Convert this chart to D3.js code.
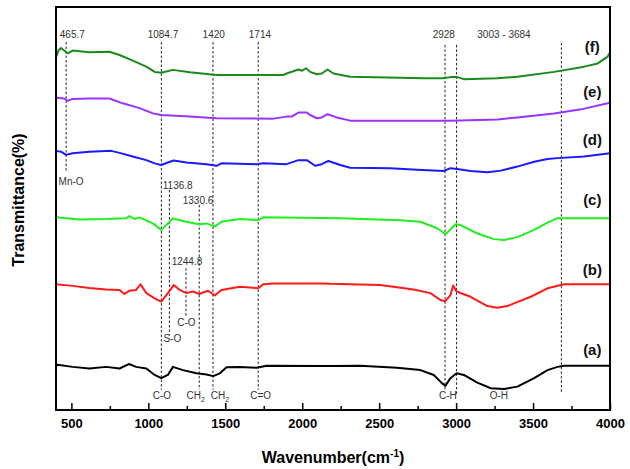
<!DOCTYPE html>
<html>
<head>
<meta charset="utf-8">
<script src="https://cdn.jsdelivr.net/npm/d3@7"></script>
<style>
  body { margin: 0; background: #fff; }
  svg { display: block; font-family: Arial, "Liberation Sans", sans-serif; }
</style>
</head>
<body>
<svg id="chart"></svg>
<script>
// Spectres FTIR (nombre d'onde, transmittance relative)
const wnA = [400, 410, 508, 617, 726, 813, 873, 921, 987, 1041, 1084, 1127, 1160, 1225, 1313, 1378, 1421, 1465, 1508, 1595, 1704, 1769, 2181, 2377, 2616, 2768, 2855, 2909, 2931, 2963, 3003, 3050, 3138, 3225, 3311, 3398, 3507, 3594, 3659, 3702, 4000];
const tA = [10.9, 11.2, 10.7, 10.3, 10.7, 10.3, 11.4, 10.7, 10.3, 8.7, 7.9, 8.7, 10.7, 9.9, 9.1, 8.8, 8.4, 9.1, 10.6, 10.7, 10.5, 11.0, 10.9, 11.0, 10.5, 9.9, 8.7, 6.6, 6.0, 7.9, 9.1, 8.7, 6.8, 5.4, 5.2, 5.8, 7.9, 9.9, 10.7, 11.0, 11.0];

const wnB = [400, 508, 617, 726, 813, 845, 878, 921, 949, 987, 1041, 1084, 1127, 1165, 1204, 1247, 1290, 1329, 1388, 1432, 1475, 1595, 1714, 1747, 1812, 2138, 2181, 2507, 2724, 2833, 2898, 2930, 2963, 2981, 3003, 3094, 3203, 3268, 3333, 3485, 3594, 3702, 4000];
const tB = [31.2, 30.8, 30.3, 29.9, 29.8, 28.8, 29.6, 29.8, 31.2, 29.0, 27.7, 26.9, 29.0, 31.0, 29.8, 29.0, 29.4, 28.8, 29.6, 28.4, 29.8, 30.6, 30.2, 31.2, 31.4, 31.4, 31.3, 31.0, 29.9, 29.0, 27.3, 27.0, 28.5, 30.9, 29.4, 28.1, 25.8, 25.4, 25.8, 28.1, 30.2, 31.2, 31.2];

const wnC = [400, 552, 726, 856, 878, 910, 943, 1030, 1084, 1127, 1160, 1247, 1329, 1378, 1432, 1475, 1595, 1714, 1747, 2247, 2638, 2768, 2877, 2931, 2963, 2996, 3029, 3138, 3246, 3311, 3398, 3507, 3594, 3659, 4000];
const tC = [47.8, 47.3, 47.4, 47.6, 48.1, 47.4, 47.8, 46.3, 44.7, 46.3, 47.5, 46.7, 46.1, 46.3, 45.5, 46.7, 47.4, 47.1, 47.8, 47.6, 47.1, 46.7, 45.1, 43.6, 44.8, 46.1, 45.9, 43.8, 42.4, 42.2, 42.9, 44.7, 46.5, 47.6, 47.6];

const wnD = [400, 433, 465, 508, 617, 758, 813, 899, 987, 1041, 1084, 1127, 1165, 1247, 1378, 1443, 1475, 1704, 1747, 1899, 1975, 2030, 2084, 2127, 2170, 2247, 2312, 2572, 2747, 2920, 2963, 3007, 3094, 3203, 3291, 3398, 3507, 3594, 3659, 3832, 4000];
const tD = [64.3, 64.1, 63.3, 63.7, 64.1, 64.3, 63.8, 62.9, 62.0, 61.2, 60.8, 61.4, 61.9, 61.4, 61.0, 60.6, 61.2, 61.0, 61.2, 61.0, 62.0, 62.0, 60.6, 61.0, 61.8, 60.8, 60.1, 60.0, 59.6, 59.3, 60.0, 59.8, 59.3, 59.0, 59.4, 60.4, 61.6, 62.3, 62.5, 62.9, 63.7];

const wnE = [400, 454, 476, 508, 617, 747, 834, 943, 1030, 1084, 1269, 1443, 1812, 1899, 1932, 1975, 2030, 2051, 2095, 2127, 2164, 2225, 2312, 2963, 3268, 3398, 3637, 3813, 3985, 4000];
const tE = [77.5, 77.3, 76.7, 77.2, 77.3, 77.3, 76.1, 74.9, 73.6, 73.2, 72.8, 72.4, 72.3, 72.8, 72.8, 73.8, 73.8, 73.2, 72.4, 72.6, 73.4, 72.6, 71.8, 71.8, 72.1, 72.6, 73.6, 74.6, 76.1, 76.3];

const wnF = [400, 417, 433, 454, 476, 508, 617, 747, 813, 899, 987, 1041, 1084, 1160, 1269, 1443, 1877, 1899, 1975, 2000, 2025, 2051, 2095, 2127, 2164, 2203, 2312, 2790, 2918, 2963, 3007, 3050, 3268, 3398, 3637, 3832, 3920, 3985, 4000];
const tF = [87.5, 89.3, 89.8, 89.2, 88.5, 89.2, 88.8, 88.9, 88.1, 86.7, 85.2, 83.9, 83.7, 84.4, 83.8, 83.1, 83.1, 83.5, 84.5, 84.2, 84.8, 83.9, 83.3, 83.5, 84.5, 83.5, 82.7, 82.3, 82.3, 82.6, 82.6, 82.1, 82.3, 82.7, 83.9, 85.2, 86.0, 87.7, 88.7];

const seriesNames = ["(a)", "(b)", "(c)", "(d)", "(e)", "(f)"];
const seriesColors = ["#000000", "#ff1a1a", "#22ee22", "#1a1aff", "#9a33ff", "#1a8a1a"];
const seriesWn = [wnA, wnB, wnC, wnD, wnE, wnF];
const seriesT = [tA, tB, tC, tD, tE, tF];
const nameT = [14.9, 34.7, 52.1, 67.0, 79.0, 90.1];
const nameWn = 3885;

// Lignes de repère pointillées
const markWn = [465.7, 1084.7, 1420, 1714, 2928, 3003, 3684, 1136.8, 1330.6, 1244.8];
const markTop = [91.3, 91.3, 91.3, 91.3, 90.6, 90.6, 91.1, 54.6, 50.9, 35.2];
const markBottom = [59.1, 5.0, 5.0, 5.0, 5.0, 3.5, 4.5, 18.6, 5.0, 23.3];

// Annotations
const noteText = ["465.7", "1084.7", "1420", "1714", "2928", "3003 - 3684", "Mn-O", "1136.8", "1330.6", "1244.8", "C-O", "S-O", "C-O", "CH|2", "CH|2", "C=O", "C-H", "O-H"];
const noteWn = [506, 1095, 1425, 1725, 2920, 3311, 498, 1191, 1323, 1251, 1247, 1156, 1088, 1308, 1465, 1730, 2946, 3278];
const noteT = [93.1, 93.1, 93.1, 93.1, 93.1, 93.1, 56.7, 55.8, 52.1, 36.8, 21.7, 17.8, 3.5, 3.5, 3.5, 3.5, 3.5, 3.5];

const xTicks = [500, 1000, 1500, 2000, 2500, 3000, 3500, 4000];
const xMinorTicks = [750, 1250, 1750, 2250, 2750, 3250, 3750];

const width = 630, height = 469;
const margin = { top: 7, right: 20, bottom: 59, left: 56 };

const svg = d3.select("#chart").attr("width", width).attr("height", height);

const x = d3.scaleLinear().domain([400, 4000]).range([margin.left, width - margin.right]);
const y = d3.scaleLinear().domain([0, 100]).range([height - margin.bottom, margin.top]);

// Lignes pointillées
svg.selectAll(".mark")
    .data(markWn)
    .join("line")
    .attr("class", "mark")
    .attr("x1", d => x(d))
    .attr("x2", d => x(d))
    .attr("y1", (d, i) => y(markTop[i]))
    .attr("y2", (d, i) => y(markBottom[i]))
    .attr("stroke", "#222")
    .attr("stroke-width", 1)
    .attr("stroke-dasharray", "2.5,2");

// Courbes
const line = d3.line()
    .x(d => x(d[0]))
    .y(d => y(d[1]));

seriesNames.forEach((name, i) => {
    const pts = seriesWn[i].map((w, j) => [w, seriesT[i][j]]);
    svg.append("path")
        .datum(pts)
        .attr("fill", "none")
        .attr("stroke", seriesColors[i])
        .attr("stroke-width", 2)
        .attr("stroke-linejoin", "round")
        .attr("d", line);
});

// Noms des spectres
svg.selectAll(".sname")
    .data(seriesNames)
    .join("text")
    .attr("class", "sname")
    .attr("x", x(nameWn))
    .attr("y", (d, i) => y(nameT[i]))
    .attr("dy", "0.35em")
    .attr("text-anchor", "middle")
    .attr("font-size", 15)
    .attr("font-weight", "bold")
    .attr("fill", "#111")
    .text(d => d);

// Annotations
const notes = svg.selectAll(".note")
    .data(noteText)
    .join("text")
    .attr("class", "note")
    .attr("x", (d, i) => x(noteWn[i]))
    .attr("y", (d, i) => y(noteT[i]))
    .attr("dy", "0.35em")
    .attr("text-anchor", "middle")
    .attr("font-size", 10)
    .attr("fill", "#333");

notes.each(function(d) {
    const parts = d.split("|");
    const t = d3.select(this);
    t.append("tspan").text(parts[0]);
    if (parts[1]) {
        t.append("tspan").attr("font-size", 7).attr("dy", "3").text(parts[1]);
    }
});

// Axe X
const plotBottom = height - margin.bottom;
svg.append("g")
    .attr("transform", `translate(0, ${plotBottom})`)
    .call(d3.axisBottom(x).tickValues(xTicks).tickSizeInner(-7).tickSizeOuter(0).tickPadding(9).tickFormat(d3.format("d")))
    .call(g => g.select(".domain").remove())
    .call(g => g.selectAll(".tick line").attr("stroke", "#000").attr("stroke-width", 1.5))
    .call(g => g.selectAll("text")
        .attr("font-size", 13)
        .attr("font-weight", "bold")
        .attr("fill", "#000")
        .attr("font-family", "Arial, 'Liberation Sans', sans-serif"));

svg.append("g")
    .attr("transform", `translate(0, ${plotBottom})`)
    .call(d3.axisBottom(x).tickValues(xMinorTicks).tickSizeInner(-4).tickSizeOuter(0).tickFormat(""))
    .call(g => g.select(".domain").remove())
    .call(g => g.selectAll(".tick line").attr("stroke", "#000").attr("stroke-width", 1.5));

// Cadre
svg.append("rect")
    .attr("x", margin.left)
    .attr("y", margin.top)
    .attr("width", width - margin.left - margin.right)
    .attr("height", plotBottom - margin.top)
    .attr("fill", "none")
    .attr("stroke", "#000")
    .attr("stroke-width", 2);

// Titres des axes
const xTitle = svg.append("text")
    .attr("x", (margin.left + width - margin.right) / 2)
    .attr("y", 463)
    .attr("text-anchor", "middle")
    .attr("font-size", 16)
    .attr("font-weight", "bold")
    .attr("fill", "#000");
xTitle.append("tspan").text("Wavenumber(cm");
xTitle.append("tspan").attr("font-size", 10).attr("dy", "-6").text("-1");
xTitle.append("tspan").attr("dy", "6").text(")");

svg.append("text")
    .attr("transform", "translate(24, 200) rotate(-90)")
    .attr("text-anchor", "middle")
    .attr("font-size", 16)
    .attr("font-weight", "bold")
    .attr("fill", "#000")
    .text("Transmittance(%)");
</script>
</body>
</html>
